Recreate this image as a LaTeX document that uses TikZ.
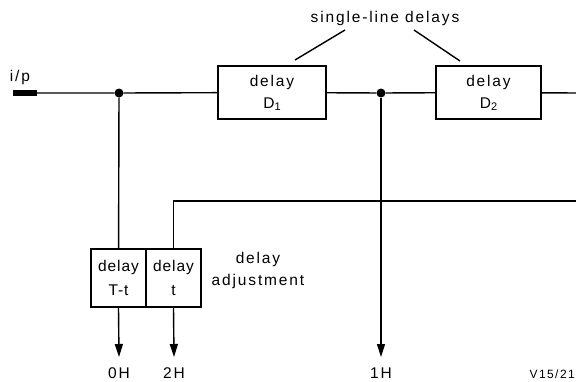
\documentclass[tikz,border=0pt]{standalone}
\usepackage{fontspec}
\usepackage{tikz}
\usetikzlibrary{arrows.meta,positioning}
\newfontfamily\stencilfont[LetterSpace=12]{Liberation Sans}
\newfontfamily\stenciltight[LetterSpace=6]{Liberation Sans}

\begin{document}
\begin{tikzpicture}[x=1pt,y=-1pt,
  font=\stencilfont\fontsize{15.5}{22}\selectfont,
  line/.style={draw=black,line width=1.4pt},
  dly/.style={draw=black,line width=1.7pt,minimum width=108pt,minimum height=53pt,align=center,inner sep=0pt},
  adj/.style={draw=black,line width=1.7pt,minimum width=55pt,minimum height=58pt,align=center,inner sep=0pt,font=\stenciltight\fontsize{15.5}{24}\selectfont},
  tap/.style={-{Triangle[length=13pt,width=8pt]},draw=black,line width=1.4pt},
  dot/.style={circle,fill=black,inner sep=0pt,minimum size=9pt},
  lbl/.style={inner sep=0pt}
]
\useasboundingbox (0,0) rectangle (576,381);

% input and main line
\node[fill=black,minimum width=24pt,minimum height=6pt,inner sep=0pt] (ip) at (25,93) {};
\node[lbl] (iplbl) at (20,77) {i/p};
\node[dot] (j1) at (119,93) {};
\node[dly] (d1) at (272,92.5) {delay\\D{\fontsize{11}{11}\selectfont\raisebox{-0.35ex}{1}}};
\node[dot] (j2) at (381,93) {};
\node[dly,minimum width=105pt] (d2) at (488.5,92.5) {delay\\D{\fontsize{11}{11}\selectfont\raisebox{-0.35ex}{2}}};
\coordinate (out) at (577,93);

\draw[line] (ip) -- (j1) -- (d1) -- (j2) -- (d2) -- (out);

% single-line delays
\node[lbl] (sld) at (385,18) {single-line delays};
\coordinate (sa) at (345,30);
\coordinate (sb) at (414,30);
\coordinate (ta) at (295,60);
\coordinate (tb) at (460,61);
\draw[line] (sa) -- (ta);
\draw[line] (sb) -- (tb);

% delay adjustment
\node[adj] (tt) at (118.5,278) {delay\\T-t};
\node[adj] (t) at (173.5,278) {delay\\t};
\node[lbl,align=center] (adjlbl) at (258,270) {delay\\adjustment};
\coordinate (fb) at (577,201);
\draw[line] (j1) -- (tt);
\draw[line] (fb) -| (t.north);

% outputs
\node[lbl] (o0) at (119,373) {0H};
\node[lbl] (o2) at (174,373) {2H};
\node[lbl] (o1) at (381,373) {1H};
\coordinate (e0) at (119,357);
\coordinate (e2) at (174,357);
\coordinate (e1) at (381,357);
\draw[tap] (tt.south) -- (e0);
\draw[tap] (t.south) -- (e2);
\draw[tap] (j2) -- (e1);

\node[lbl,anchor=east,font=\stencilfont\fontsize{12}{14}\selectfont] (ref) at (575,374) {V15/21};
\end{tikzpicture}
\end{document}
